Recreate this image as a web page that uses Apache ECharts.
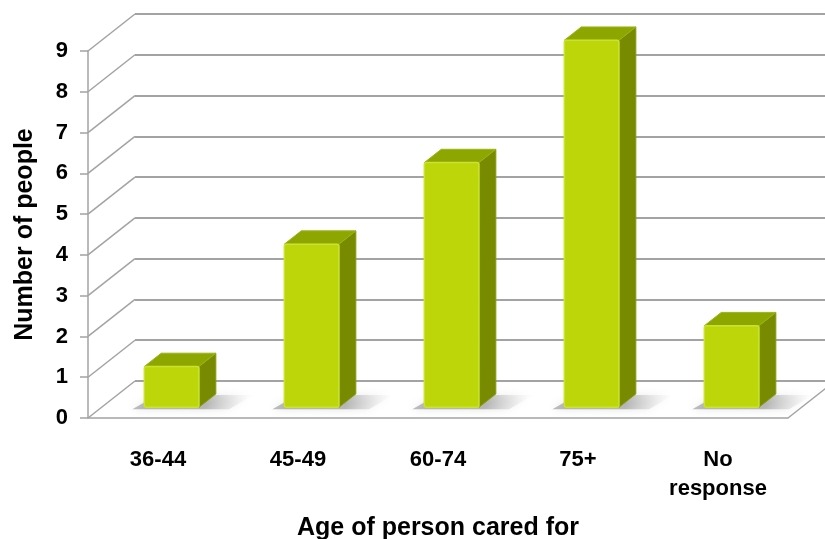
<!DOCTYPE html>
<html>
<head>
<meta charset="utf-8">
<script src="https://cdn.jsdelivr.net/npm/echarts@6/dist/echarts.min.js"></script>
<style>
    html, body {margin: 0; padding: 0; background: #fff;}
    #chart {width: 825px; height: 539px;}
</style>
</head>
<body>
<div id="chart"></div>
<script>
// chart data
const categories = ['36-44', '45-49', '60-74', '75+', 'No\nresponse'];
const people = [1, 4, 6, 9, 2];
const yTicks = [0, 1, 2, 3, 4, 5, 6, 7, 8, 9];

// 3d look: offset of the back wall from the front plane
const DEPTH_X = 47;
const DEPTH_Y = -37;
const BAR_FRONT = 0.29;
const BAR_BACK = 0.65;
const GRID_COLOR = '#a3a3a3';
const FONT = 'Liberation Sans';

let myChart = echarts.init(document.getElementById('chart'));

function renderWallEdges(params, api) {
    let cs = params.coordSys;
    let v = api.value(0);
    let y = api.coord([0, v])[1];
    let children = [{
        type: 'line',
        shape: {x1: cs.x, y1: y, x2: cs.x + DEPTH_X, y2: y + DEPTH_Y},
        style: {stroke: GRID_COLOR, lineWidth: 1.5}
    }];
    if (v === 0) {
        // right edge of the floor
        let xr = cs.x + cs.width;
        children.push({
            type: 'line',
            shape: {x1: xr, y1: y, x2: xr + DEPTH_X, y2: y + DEPTH_Y},
            style: {stroke: GRID_COLOR, lineWidth: 1.5}
        });
    }
    return {type: 'group', children: children};
}

function renderBar(params, api) {
    let idx = api.value(0);
    let val = api.value(1);
    let base = api.coord([idx, 0]);
    let top = api.coord([idx, val]);
    let bw = api.size([1, 0])[0] * 0.39;
    let dx = (BAR_BACK - BAR_FRONT) * DEPTH_X;
    let dy = (BAR_BACK - BAR_FRONT) * DEPTH_Y;
    let x1 = base[0] - bw / 2 + BAR_FRONT * DEPTH_X;
    let x2 = x1 + bw;
    let yT = top[1] + BAR_FRONT * DEPTH_Y;
    let yB = base[1] + BAR_FRONT * DEPTH_Y;
    return {
        type: 'group',
        children: [
            {
                // soft shadow on the floor
                type: 'polygon',
                shape: {points: [[x1 - 12, yB + 2], [x2 + 30, yB + 2], [x2 + dx + 38, yB + dy + 1], [x1 + dx - 4, yB + dy + 1]]},
                style: {
                    fill: new echarts.graphic.LinearGradient(0, 0, 1, 0, [
                        {offset: 0, color: 'rgba(110,110,110,0.45)'},
                        {offset: 0.6, color: 'rgba(130,130,130,0.5)'},
                        {offset: 1, color: 'rgba(210,210,210,0)'}
                    ]),
                    shadowBlur: 8,
                    shadowColor: 'rgba(140,140,140,0.5)'
                }
            },
            {
                type: 'polygon',
                shape: {points: [[x2, yT], [x2 + dx, yT + dy], [x2 + dx, yB + dy], [x2, yB]]},
                style: {fill: '#788a00', stroke: '#8a9c10', lineWidth: 1}
            },
            {
                type: 'polygon',
                shape: {points: [[x1, yT], [x2, yT], [x2 + dx, yT + dy], [x1 + dx, yT + dy]]},
                style: {fill: '#8ea600', stroke: '#9db418', lineWidth: 1}
            },
            {
                type: 'rect',
                shape: {x: x1, y: yT, width: bw, height: yB - yT, r: 2},
                style: {fill: '#bcd60a', stroke: '#cbe330', lineWidth: 1.5}
            }
        ]
    };
}

let option = {
    backgroundColor: '#fff',
    animation: false,
    grid: [
        {left: 88, right: 37, top: 51, bottom: 121, outerBoundsMode: 'none'},
        {left: 88 + DEPTH_X, width: 720, top: 51 + DEPTH_Y, bottom: 121 - DEPTH_Y, outerBoundsMode: 'none'}
    ],
    xAxis: [
        {
            type: 'category',
            gridIndex: 0,
            data: categories,
            axisLine: {lineStyle: {color: GRID_COLOR, width: 1.5}},
            axisTick: {length: 8, lineStyle: {color: GRID_COLOR, width: 1.5}},
            axisLabel: {
                margin: 27,
                color: '#000',
                fontFamily: FONT,
                fontSize: 22,
                fontWeight: 'bold',
                lineHeight: 29
            },
            name: 'Age of person cared for',
            nameLocation: 'middle',
            nameGap: 98,
            nameTextStyle: {color: '#000', fontFamily: FONT, fontSize: 25, fontWeight: 'bold'}
        },
        {
            type: 'category',
            gridIndex: 1,
            data: categories,
            show: false
        }
    ],
    yAxis: [
        {
            type: 'value',
            gridIndex: 0,
            min: 0,
            max: 9,
            interval: 1,
            axisLine: {show: true, lineStyle: {color: GRID_COLOR, width: 1.5}},
            axisTick: {show: true, length: 8, lineStyle: {color: GRID_COLOR, width: 1.5}},
            splitLine: {show: false},
            axisLabel: {
                margin: 20,
                color: '#000',
                fontFamily: FONT,
                fontSize: 22,
                fontWeight: 'bold'
            },
            name: 'Number of people',
            nameLocation: 'middle',
            nameGap: 50,
            nameRotate: 90,
            nameTextStyle: {color: '#000', fontFamily: FONT, fontSize: 25, fontWeight: 'bold'}
        },
        {
            type: 'value',
            gridIndex: 1,
            min: 0,
            max: 9,
            interval: 1,
            axisLine: {show: false},
            axisTick: {show: false},
            axisLabel: {show: false},
            splitLine: {show: true, lineStyle: {color: GRID_COLOR, width: 2}}
        }
    ],
    series: [
        {
            type: 'custom',
            xAxisIndex: 0,
            yAxisIndex: 0,
            renderItem: renderWallEdges,
            data: yTicks.map(v => [v]),
            encode: {y: 0},
            silent: true,
            z: 1
        },
        {
            type: 'custom',
            xAxisIndex: 0,
            yAxisIndex: 0,
            renderItem: renderBar,
            data: people.map((v, i) => [i, v]),
            encode: {x: 0, y: 1},
            z: 5
        }
    ]
};
myChart.setOption(option);
</script>
</body>
</html>
